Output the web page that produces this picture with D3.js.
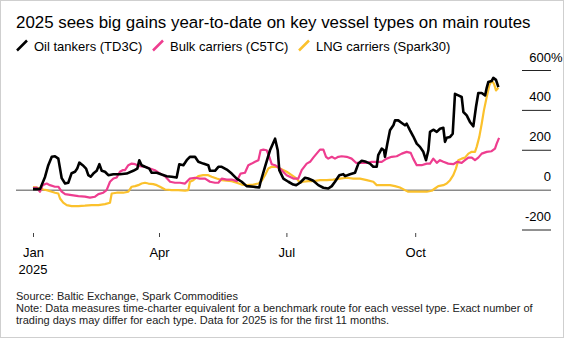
<!DOCTYPE html>
<html>
<head>
<meta charset="utf-8">
<script src="https://cdn.jsdelivr.net/npm/d3@7"></script>
<style>
  body { margin: 0; background: #fff; }
  svg { display: block; font-family: "Liberation Sans", Arial, Helvetica, sans-serif; }
</style>
</head>
<body>
<div id="chart"></div>
<script>
// Series: day offset from Jan 1 2025, % change year-to-date
var oilDays = [0,5,8.6,10.9,13.4,15.7,18.1,20.5,22.9,25.2,27.6,30,31.6,33.1,35.5,37.9,39.5,41.2,43.1,45.5,47.4,49.1,51.4,53.8,57.4,62.1,66.9,71.6,74.5,75.9,77.6,80,83.1,84.8,88.4,91.9,95.5,99.1,102.6,104.5,107.4,109.8,112.1,115.7,118.1,121.6,125.2,126.4,130,132.4,134.8,138.4,141.9,145.5,149.1,152.6,157.4,161.6,162.6,165.7,169.3,172.9,174.8,175.9,178.8,182.4,185.9,188,190.7,194.3,196.6,200.2,203.8,207.4,210.9,213.4,215.7,218.8,221.6,222.9,226.4,230,232.4,234.8,237.9,240.7,243.1,245.5,246.6,249.1,250.7,251.4,253.1,255,257.4,258.6,260.9,263.4,265.7,266.9,269.3,271.6,274.1,276.4,278.8,280.7,282.4,283.6,285.9,288.4,290.7,293.1,294.3,295.5,297.9,299.8,301.4,303.8,306.2,307.4,309.8,312.1,314.5,316.4,318.1,320.5,322.9,324.1,325.2,327.6,328.8,330.7,332.4];
var oilVals = [5,5,66,125,167,170,158,60,33,37,85,92,108,138,125,108,75,67,83,97,130,97,92,75,80,80,83,97,108,150,125,117,108,87,87,78,70,67,63,130,125,150,167,167,142,133,125,97,97,117,117,103,83,58,42,20,17,13,42,117,200,258,200,100,58,42,28,25,37,62,58,47,25,12,8,20,42,75,80,70,80,87,133,147,142,133,117,117,175,208,200,167,233,300,325,350,350,337,325,333,300,270,233,217,192,150,200,292,303,292,308,313,242,263,267,283,483,475,467,392,375,342,320,417,487,487,475,513,542,547,563,553,517];

var bulkDays = [0,2.6,5,6.9,9.8,12.1,15.7,18.1,20.5,22.9,27.6,32.4,37.1,40.7,44.3,46.7,50.2,52.6,55,57.4,59.8,62.1,64,65.7,68.1,70.5,72.9,76.4,80,83.6,87.1,90.7,94.3,97.9,101.4,105,108.6,112.1,115.7,119.3,122.9,126.4,130,132.4,134.8,138.4,141.9,145.5,148.3,151.4,153.8,156.2,158.6,161,162.6,164.5,166.9,168.8,170.5,172.9,176.4,181.2,186,189.5,191.9,195.5,197.9,200.2,202.6,205,207.4,209.3,210.9,213.4,215.7,218.1,220.5,224.1,227.6,230.7,234.8,238.4,241.9,245.5,249.1,252.6,256.2,259.8,263.4,266.9,269.8,271.6,274.1,277.6,281.2,283.6,285.9,288.4,290.7,293.1,296.6,300.2,303.1,306.2,308.6,311,313.4,315.7,318.1,320.5,324.1,327.6,330,331.2,332.9];
var bulkVals = [10,13,-8,25,33,25,17,17,-8,-20,-25,-30,-33,-38,-33,-20,-13,0,42,58,63,92,100,100,125,133,130,120,117,108,100,83,70,42,37,37,33,58,62,58,58,42,37,37,58,53,53,45,83,87,125,133,142,150,200,203,200,167,130,125,108,75,58,58,100,133,142,163,183,203,203,167,158,167,158,167,170,167,158,137,137,137,142,142,142,158,167,170,183,192,187,158,125,125,133,133,158,137,150,142,133,130,142,137,150,163,163,150,163,183,192,195,208,233,262];

var lngDays = [0,2.6,7.4,9.8,13.4,15.7,18.1,19.3,21.6,24.1,27.6,32.4,37.1,41.9,46.7,51.4,55,56.2,59.8,64.5,68.1,70.5,72.9,75.2,77.6,80,82.4,85.9,88.4,90.7,94.3,99.1,103.8,108.6,110.9,112.1,114.5,118.1,121.6,125.2,127.6,131.2,134.8,138.4,141.9,145.5,149.1,152.6,157.4,160.9,163.4,165.7,168.1,170.5,174.1,176.4,181.2,184.8,188.4,190.7,193.1,196.6,200.2,205,209.8,214.5,219.3,224.1,228.8,233.6,238.4,243.1,245.5,250.2,255,258.6,262.1,265.7,268.1,271.6,276.4,281.2,284.8,287.1,289.5,293.1,295.5,297.9,300.2,302.1,303.8,306.2,308.6,311,313.4,315.7,316.9,318.8,320.5,322.1,324.1,325.9,327.6,329.3,330.7,332.4];
var lngVals = [15,13,3,0,-8,-13,-17,-42,-63,-75,-80,-80,-78,-75,-75,-70,-63,-17,-13,-13,-8,17,20,25,33,37,33,30,25,17,3,0,0,-3,0,42,50,70,75,75,67,58,50,47,45,37,28,25,28,33,47,75,108,117,117,108,92,75,58,37,42,45,45,50,50,53,58,62,58,58,50,42,25,25,25,20,13,0,-8,-8,-8,-8,-3,8,20,25,33,50,75,108,150,158,163,183,192,192,217,267,333,400,467,525,550,533,500,513];

var seriesNames  = ["Oil tankers (TD3C)", "Bulk carriers (C5TC)", "LNG carriers (Spark30)"];
var seriesColors = ["#000000", "#ee3d8f", "#fbc12c"];
var yTicks = [600, 400, 200, 0, -200];
var xTicks = [new Date(2025, 0, 1), new Date(2025, 3, 1), new Date(2025, 6, 1), new Date(2025, 9, 1)];

var width = 564, height = 338;
var start = new Date(2025, 0, 1);

function toSeries(days, vals) {
  return days.map(function(d, i) {
    return { date: d3.timeHour.offset(start, Math.round(d * 24)), value: vals[i] };
  });
}

var series = [
  { name: seriesNames[0], color: seriesColors[0], width: 2.6, data: toSeries(oilDays, oilVals) },
  { name: seriesNames[1], color: seriesColors[1], width: 2.2, data: toSeries(bulkDays, bulkVals) },
  { name: seriesNames[2], color: seriesColors[2], width: 2.2, data: toSeries(lngDays, lngVals) }
];

var svg = d3.select("#chart").append("svg")
    .attr("width", width)
    .attr("height", height);

svg.append("rect")
    .attr("x", 0.5).attr("y", 0.5)
    .attr("width", width - 1).attr("height", height - 1)
    .attr("fill", "#fff")
    .attr("stroke", "#cfcfcf");

// Scales
var x = d3.scaleTime()
    .domain([new Date(2025, 0, 1), new Date(2025, 11, 31)])
    .range([33, 33 + 364 * 1.40]);

var y = d3.scaleLinear()
    .domain([-200, 600])
    .range([230, 70.5]);

// Title + legend
svg.append("text")
    .attr("x", 16).attr("y", 28)
    .attr("font-size", 16.9)
    .attr("fill", "#000")
    .text("2025 sees big gains year-to-date on key vessel types on main routes");

// legend slots
var legendX = [17, 153, 299];
series.forEach(function(s, i) {
  var lx = legendX[i];
  svg.append("line")
      .attr("x1", lx).attr("y1", 50.5)
      .attr("x2", lx + 10).attr("y2", 40.5)
      .attr("stroke", s.color)
      .attr("stroke-width", 2.5);
  svg.append("text")
      .attr("x", lx + 17).attr("y", 51)
      .attr("font-size", 13)
      .attr("fill", "#000")
      .text(s.name);
});

// Y axis on the right: short rules with labels above
var yAxis = svg.append("g").attr("class", "y-axis");
yTicks.forEach(function(t) {
  if (t === 0) {
    yAxis.append("line")
        .attr("x1", 16).attr("x2", 551)
        .attr("y1", y(0)).attr("y2", y(0))
        .attr("stroke", "#8a8a8a")
        .attr("stroke-width", 1.5);
  } else {
    yAxis.append("line")
        .attr("x1", 522).attr("x2", 551)
        .attr("y1", y(t)).attr("y2", y(t))
        .attr("stroke", "#222")
        .attr("stroke-width", 1);
  }
  yAxis.append("text")
      .attr("x", 551).attr("y", y(t) - 9)
      .attr("text-anchor", "end")
      .attr("font-size", 13)
      .attr("fill", "#000")
      .text(t);
  if (t === 600) {
    yAxis.append("text")
        .attr("x", 551).attr("y", y(t) - 9)
        .attr("font-size", 13)
        .attr("fill", "#000")
        .text("%");
  }
});

// X axis
var xAxis = svg.append("g")
    .attr("transform", "translate(0,233)")
    .call(d3.axisBottom(x)
      .tickValues(xTicks)
      .tickSize(4)
      .tickPadding(11)
      .tickFormat(d3.timeFormat("%b")));
xAxis.select(".domain").remove();
xAxis.selectAll(".tick line").attr("stroke", "#444");
xAxis.selectAll(".tick text")
    .attr("font-size", 13)
    .attr("font-family", "Liberation Sans, Arial, sans-serif")
    .attr("fill", "#000");

svg.append("text")
    .attr("x", x(start)).attr("y", 274)
    .attr("text-anchor", "middle")
    .attr("font-size", 13)
    .attr("fill", "#000")
    .text("2025");

// Lines (LNG under, oil on top)
var line = d3.line()
    .x(function(d) { return x(d.date); })
    .y(function(d) { return y(d.value); });

svg.append("g")
  .selectAll("path")
  .data(series.slice().reverse())
  .enter()
  .append("path")
    .attr("d", function(s) { return line(s.data); })
    .attr("fill", "none")
    .attr("stroke", function(s) { return s.color; })
    .attr("stroke-width", function(s) { return s.width; })
    .attr("stroke-linejoin", "round");

// Footer
var notes = [
  "Source: Baltic Exchange, Spark Commodities",
  "Note: Data measures time-charter equivalent for a benchmark route for each vessel type. Exact number of",
  "trading days may differ for each type. Data for 2025 is for the first 11 months."
];
svg.append("g")
  .selectAll("text")
  .data(notes)
  .enter()
  .append("text")
    .attr("x", 16)
    .attr("y", function(d, i) { return 299.5 + i * 12; })
    .attr("font-size", 11)
    .attr("fill", "#222")
    .text(function(d) { return d; });
</script>
</body>
</html>
